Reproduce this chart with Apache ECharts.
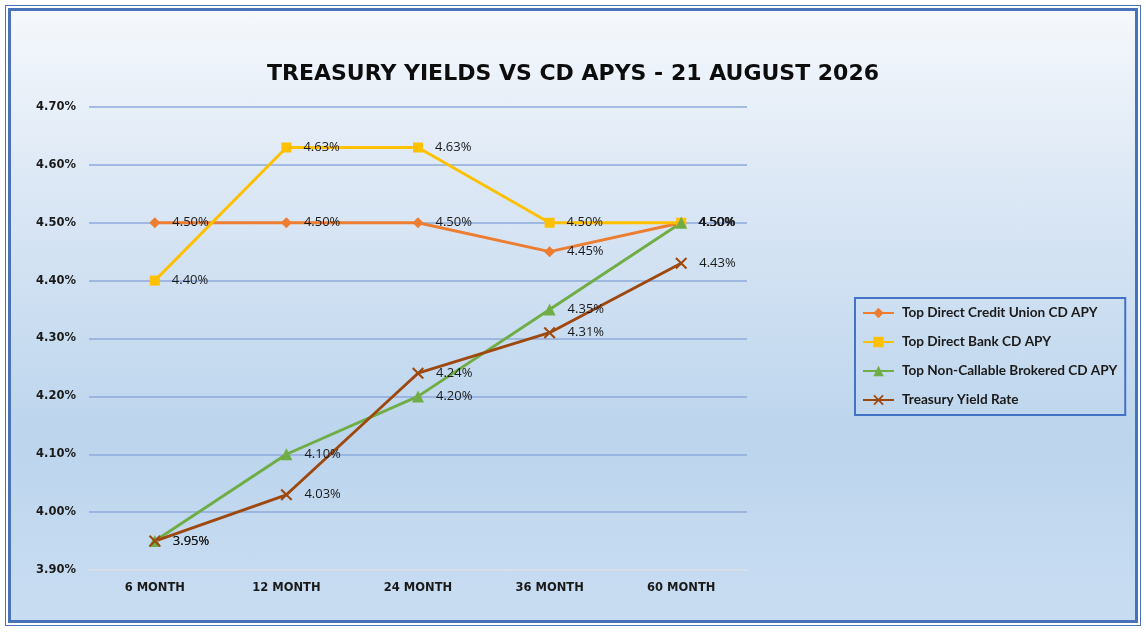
<!DOCTYPE html>
<html>
<head>
<meta charset="utf-8">
<script src="https://cdn.jsdelivr.net/npm/echarts@6/dist/echarts.min.js"></script>
<style>
  html, body { margin: 0; padding: 0; background: #ffffff; }
  #outer {
    position: absolute; left: 5px; top: 5px; width: 1134px; height: 619px;
    border: 1.5px solid #4a72b8;
  }
  #inner {
    position: absolute; left: 2px; top: 2px; right: 2px; bottom: 2px;
    border: 3px solid #4a72b8;
    background: linear-gradient(to bottom, #f5f8fc 0%, #dbe7f5 30%, #bcd5ed 70%, #c9ddf2 100%);
  }
  #main { position: absolute; left: 0; top: 0; width: 1146px; height: 633px; }
</style>
</head>
<body>
<div id="outer"><div id="inner"></div></div>
<div id="main"></div>
<script>
// terms on the x axis
var terms = ['6 MONTH', '12 MONTH', '24 MONTH', '36 MONTH', '60 MONTH'];

// yields in percent
var creditUnion = [4.50, 4.50, 4.50, 4.45, 4.50];
var directBank = [4.40, 4.63, 4.63, 4.50, 4.50];
var brokered = [3.95, 4.10, 4.20, 4.35, 4.50];
var treasury = [3.95, 4.03, 4.24, 4.31, 4.43];

var seriesNames = ['Top Direct Credit Union CD APY', 'Top Direct Bank CD APY',
    'Top Non-Callable Brokered CD APY', 'Treasury Yield Rate'];

var crossSymbol = 'path://M0,1.2L1.2,0L5,3.8L8.8,0L10,1.2L6.2,5L10,8.8L8.8,10L5,6.2L1.2,10L0,8.8L3.8,5Z';

function makeSeries(name, data, color, symbol, size){
    return {
        name: name,
        type: 'line',
        data: data,
        symbol: symbol,
        symbolSize: size,
        lineStyle: { color: color, width: 2.9 },
        itemStyle: { color: color },
        label: {
            show: true,
            position: 'right',
            distance: 12,
            formatter: function(p){ return p.value.toFixed(2) + '%' },
            fontFamily: 'Open Sans',
            fontSize: 13,
            color: '#1a1a1a'
        }
    }
}

var chart = echarts.init(document.getElementById('main'))
var option = {
    animation: false,
    backgroundColor: 'transparent',
    title: {
        text: 'TREASURY YIELDS VS CD APYS - 21 AUGUST 2026',
        left: 'center',
        top: 58,
        textStyle: {
            fontFamily: 'DejaVu Sans',
            fontWeight: 'bold',
            fontSize: 22,
            color: '#0d0d0d'
        }
    },
    legend: {
        orient: 'vertical',
        left: 855,
        top: 298,
        padding: [8, 8, 8, 7],
        itemGap: 15,
        itemWidth: 31,
        itemHeight: 13,
        borderColor: '#4472c4',
        borderWidth: 2,
        data: seriesNames,
        textStyle: {
            fontFamily: 'Lato',
            fontWeight: 'bold',
            fontSize: 13.6,
            color: '#1a1a1a',
            padding: [0, 0, 0, 3]
        }
    },
    grid: { left: 89, right: 399, top: 107, bottom: 63 },
    xAxis: {
        type: 'category',
        data: terms,
        boundaryGap: true,
        axisLine: { lineStyle: { color: '#d8e0ea', width: 1.5 } },
        axisTick: { show: false },
        axisLabel: {
            margin: 12,
            fontFamily: 'DejaVu Sans',
            fontWeight: 'bold',
            fontSize: 11.5,
            color: '#1a1a1a'
        }
    },
    yAxis: {
        type: 'value',
        min: 3.9,
        max: 4.7,
        interval: 0.1,
        axisLine: { show: false },
        axisTick: { show: false },
        axisLabel: {
            margin: 13,
            formatter: function(v){ return v.toFixed(2) + '%' },
            fontFamily: 'DejaVu Sans',
            fontWeight: 'bold',
            fontSize: 11.5,
            color: '#1a1a1a'
        },
        splitLine: {
            lineStyle: {
                color: ['#d8e0ea', '#8eaadb', '#8eaadb', '#8eaadb', '#8eaadb', '#8eaadb', '#8eaadb', '#8eaadb', '#8eaadb'],
                width: 1.5
            }
        }
    },
    series: [
        makeSeries(seriesNames[0], creditUnion, '#ed7d31', 'diamond', 11),
        makeSeries(seriesNames[1], directBank, '#ffc000', 'rect', 10),
        makeSeries(seriesNames[2], brokered, '#70ad47', 'triangle', 12),
        makeSeries(seriesNames[3], treasury, '#9e480e', crossSymbol, 12)
    ]
};

chart.setOption(option)
</script>
</body>
</html>
